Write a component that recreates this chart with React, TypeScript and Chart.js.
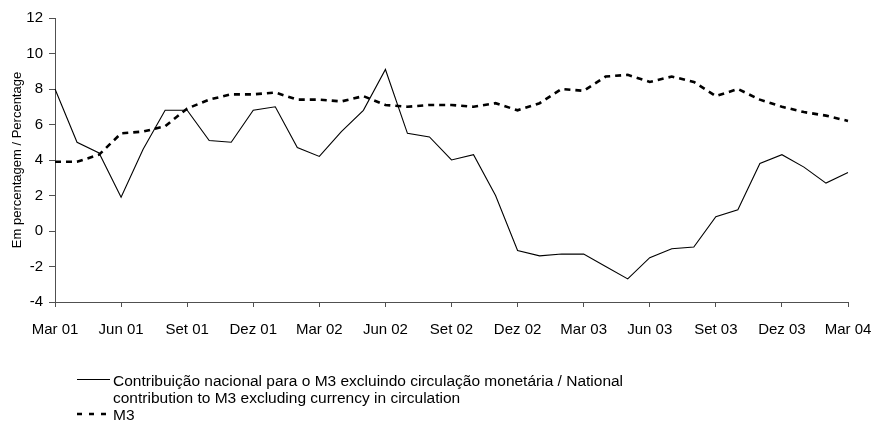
import React, { useEffect, useRef } from "react";
import { Chart, registerables } from "chart.js";

Chart.register(...registerables);

const months = ["Mar", "Abr", "Mai", "Jun", "Jul", "Ago", "Set", "Out", "Nov", "Dez", "Jan", "Fev"];
const years = ["01", "02", "03", "04"];

// Monthly categories Mar 01 .. Mar 04
const categories: string[] = [];
{
  let y = 0;
  for (let i = 0; i < 37; i++) {
    const m = months[i % 12];
    if (m === "Jan" && i > 0) y++;
    categories.push(`${m} ${years[y]}`);
  }
}

const nationalContribution = [
  8.0, 5.0, 4.4, 1.9, 4.6, 6.8, 6.8, 5.1, 5.0, 6.8, 7.0, 4.7,
  4.2, 5.6, 6.8, 9.1, 5.5, 5.3, 4.0, 4.3, 2.0, -1.1, -1.4, -1.3,
  -1.3, -2.0, -2.7, -1.5, -1.0, -0.9, 0.8, 1.2, 3.8, 4.3, 3.6, 2.7,
  3.3,
];

const m3 = [
  3.9, 3.9, 4.3, 5.5, 5.6, 5.9, 6.9, 7.4, 7.7, 7.7, 7.8, 7.4,
  7.4, 7.3, 7.6, 7.1, 7.0, 7.1, 7.1, 7.0, 7.2, 6.8, 7.2, 8.0,
  7.9, 8.7, 8.8, 8.4, 8.7, 8.4, 7.6, 8.0, 7.4, 7.0, 6.7, 6.5,
  6.2,
];

const yAxisTitle = "Em percentagem / Percentage";
const legendLine1 = ["Contribuição nacional para o M3 excluindo circulação monetária / National", "contribution to M3 excluding currency in circulation"];
const legendLine2 = ["M3"];

const FONT = "'Liberation Sans', Arial, sans-serif";
const AXIS = "#505050";

const legendPlugin = {
  id: "customLegend",
  afterDraw(chart: any) {
    const ctx = chart.ctx as CanvasRenderingContext2D;
    ctx.save();
    ctx.fillStyle = "#000";
    ctx.font = `15.5px ${FONT}`;
    ctx.textBaseline = "alphabetic";
    ctx.textAlign = "left";
    // solid sample
    ctx.strokeStyle = "#000";
    ctx.lineWidth = 1;
    ctx.setLineDash([]);
    ctx.beginPath();
    ctx.moveTo(77, 379.5);
    ctx.lineTo(110, 379.5);
    ctx.stroke();
    ctx.fillText(legendLine1[0], 113, 386);
    ctx.fillText(legendLine1[1], 113, 403);
    // dashed sample
    ctx.lineWidth = 2.5;
    ctx.setLineDash([5, 7]);
    ctx.beginPath();
    ctx.moveTo(77, 414);
    ctx.lineTo(110, 414);
    ctx.stroke();
    ctx.setLineDash([]);
    ctx.fillText(legendLine2[0], 113, 420);
    ctx.restore();
  },
};

export default function App() {
  const ref = useRef<HTMLCanvasElement | null>(null);

  useEffect(() => {
    document.body.style.margin = "0";
    const canvas = ref.current;
    if (!canvas) return;
    const chart = new Chart(canvas, {
      type: "line",
      data: {
        labels: categories,
        datasets: [
          {
            label: legendLine1.join(" "),
            data: nationalContribution,
            borderColor: "#000",
            borderWidth: 1.1,
            pointRadius: 0,
            tension: 0,
            fill: false,
          },
          {
            label: legendLine2[0],
            data: m3,
            borderColor: "#000",
            borderWidth: 2.6,
            borderDash: [6, 5],
            pointRadius: 0,
            tension: 0,
            fill: false,
          },
        ],
      },
      options: {
        responsive: false,
        animation: false,
        layout: { padding: { top: 18, right: 30, bottom: 81, left: 0 } },
        plugins: {
          legend: { display: false },
          tooltip: { enabled: false },
        },
        scales: {
          x: {
            type: "category",
            offset: false,
            afterFit: (s: any) => {
              s.height = 40;
              s.paddingLeft = 0;
              s.paddingRight = 0;
            },
            grid: {
              display: true,
              drawOnChartArea: false,
              drawTicks: true,
              tickLength: 5,
              color: AXIS,
            },
            border: { display: true, color: AXIS, width: 1 },
            ticks: {
              autoSkip: false,
              maxRotation: 0,
              minRotation: 0,
              padding: 14,
              color: "#000",
              font: { family: FONT, size: 15 },
              callback: function (this: any, _v: any, i: number) {
                return i % 3 === 0 ? categories[i] : null;
              },
            },
          },
          y: {
            min: -4,
            max: 12,
            afterFit: (s: any) => {
              s.width = 55;
              s.paddingTop = 0;
              s.paddingBottom = 0;
            },
            grid: {
              display: true,
              drawOnChartArea: false,
              drawTicks: true,
              tickLength: 6,
              color: AXIS,
            },
            border: { display: true, color: AXIS, width: 1 },
            ticks: {
              stepSize: 2,
              padding: 6,
              color: "#000",
              font: { family: FONT, size: 15 },
            },
            title: {
              display: true,
              text: yAxisTitle,
              color: "#000",
              font: { family: FONT, size: 13 },
              padding: { top: 10, bottom: 0 },
            },
          },
        },
      },
      plugins: [legendPlugin],
    });
    return () => chart.destroy();
  }, []);

  return (
    <div style={{ width: 878, height: 423, background: "#fff" }}>
      <canvas ref={ref} width={878} height={423} />
    </div>
  );
}
